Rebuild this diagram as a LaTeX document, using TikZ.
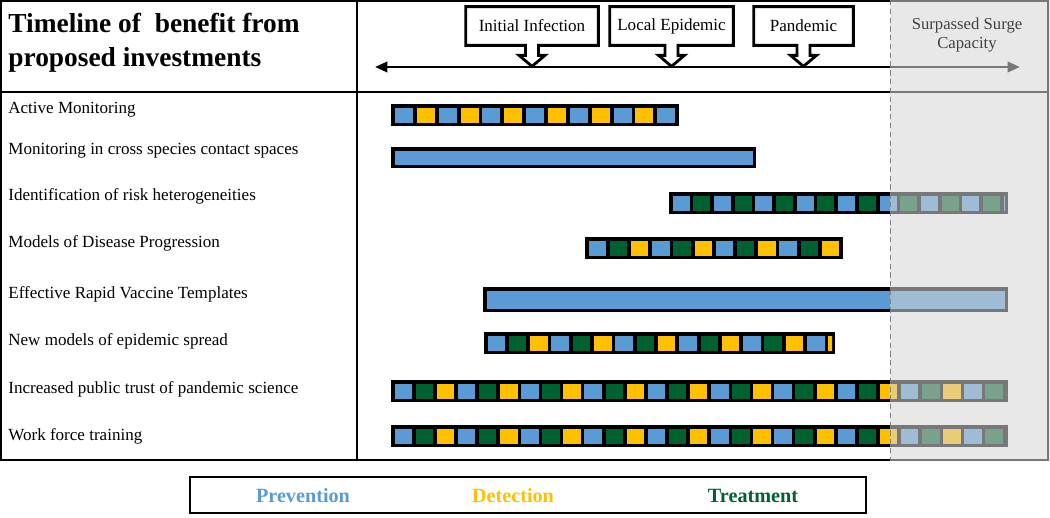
\documentclass[tikz,border=0pt]{standalone}
\usepackage{fontspec}
\setmainfont{Liberation Serif}
\usetikzlibrary{arrows.meta,calc}
\usepackage{xcolor}
\definecolor{prevblue}{HTML}{5B9BD5}
\definecolor{detyellow}{HTML}{FFC000}
\definecolor{treatgreen}{HTML}{006130}
\definecolor{surgegray}{RGB}{214,214,214}

\begin{document}
\begin{tikzpicture}[x=0.02cm, y=-0.02cm,
  tableline/.style={line width=1.1pt},
  heading/.style={anchor=west, align=left, inner sep=0pt,
                  font=\fontsize{15.6}{19.5}\selectfont\bfseries},
  rowlbl/.style={anchor=base west, inner sep=0pt, font=\fontsize{9.7}{11}\selectfont},
  phase/.style={minimum height=0.76cm, inner sep=0pt, font=\fontsize{9.7}{11}\selectfont},
  calloutline/.style={line width=1.6pt, line join=miter},
  timeline/.style={line width=1.6pt,
                   {Triangle[length=7pt,width=5.8pt]}-{Triangle[length=7pt,width=5.8pt]}},
  barbg/.style={fill=black},
  surge/.style={fill=surgegray, fill opacity=0.56},
  legtext/.style={font=\fontsize{11.5}{13}\selectfont\bfseries},
]
  \useasboundingbox (0,0) rectangle (1050,517);

  % table
  \draw[tableline] (1,1) rectangle (1048,460);
  \draw[tableline] (357,1) -- (357,460);
  \draw[tableline] (1,92) -- (1048,92);

  \node[heading] (head) at (8,43) {Timeline of~ benefit from\\proposed investments};

  \node[rowlbl] (lblA) at (8,113) {Active Monitoring};
  \node[rowlbl] (lblB) at (8,154) {Monitoring in cross species contact spaces};
  \node[rowlbl] (lblC) at (8,200) {Identification of risk heterogeneities};
  \node[rowlbl] (lblD) at (8,247) {Models of Disease Progression};
  \node[rowlbl] (lblE) at (8,298) {Effective Rapid Vaccine Templates};
  \node[rowlbl] (lblF) at (8,345) {New models of epidemic spread};
  \node[rowlbl] (lblG) at (8,393) {Increased public trust of pandemic science};
  \node[rowlbl] (lblH) at (8,440) {Work force training};

  % timeline with phase callouts
  \coordinate (tl) at (375,67);
  \coordinate (tr) at (1020,67);
  \draw[timeline] (tl) -- (tr);

  \node[phase, minimum width=2.64cm] (inf) at (532,26) {Initial Infection};
  \node[phase, minimum width=2.46cm] (loc) at (671.5,26) {Local Epidemic};
  \node[phase, minimum width=1.98cm] (pan) at (803.5,26) {Pandemic};

  \foreach \n in {inf,loc,pan}
    \draw[calloutline] (\n.north west) -- (\n.north east) -- (\n.south east)
      -- ($(\n.south)+(6.5,0)$) -- ++(0,10) -- ++(6.5,0) -- ($(\n.south)+(0,21)$)
      -- ++(-13,-11) -- ++(6.5,0) -- ++(0,-10) -- (\n.south west) -- cycle;

  % Active Monitoring
  \fill[barbg] (391,104) rectangle (679,126);
  \begin{scope}
    \clip (394,107) rectangle (676,123);
    \foreach \i in {0,...,6} {
      \fill[prevblue] ({395+2*\i*21.85},107.5) rectangle ++(18,15);
      \fill[detyellow] ({395+(2*\i+1)*21.85},107.5) rectangle ++(18,15);
    }
  \end{scope}

  % Monitoring in cross species contact spaces
  \fill[barbg] (391,147) rectangle (756,168);
  \fill[prevblue] (394.5,150.5) rectangle (752.5,164.5);

  % Identification of risk heterogeneities
  \fill[barbg] (669,192) rectangle (1008,214);
  \begin{scope}
    \clip (672,195) rectangle (1005,211);
    \foreach \i in {0,...,8} {
      \fill[prevblue] ({672.5+2*\i*20.7},195.5) rectangle ++(17,15);
      \fill[treatgreen] ({672.5+(2*\i+1)*20.7},195.5) rectangle ++(17,15);
    }
  \end{scope}

  % Models of Disease Progression
  \fill[barbg] (585,237) rectangle (843,259);
  \begin{scope}
    \clip (588,240) rectangle (840,256);
    \foreach \i in {0,...,3} {
      \fill[prevblue] ({588.5+3*\i*21.2},240.5) rectangle ++(17.5,15);
      \fill[treatgreen] ({588.5+(3*\i+1)*21.2},240.5) rectangle ++(17.5,15);
      \fill[detyellow] ({588.5+(3*\i+2)*21.2},240.5) rectangle ++(17.5,15);
    }
  \end{scope}

  % Effective Rapid Vaccine Templates
  \fill[barbg] (483,287) rectangle (1008,312);
  \fill[prevblue] (486.5,290.5) rectangle (1004.5,308.5);

  % New models of epidemic spread
  \fill[barbg] (484,332) rectangle (835,354);
  \begin{scope}
    \clip (487,335) rectangle (832,351);
    \foreach \i in {0,...,4} {
      \fill[prevblue] ({487.5+3*\i*21.3},335.5) rectangle ++(17.5,15);
      \fill[treatgreen] ({487.5+(3*\i+1)*21.3},335.5) rectangle ++(17.5,15);
      \fill[detyellow] ({487.5+(3*\i+2)*21.3},335.5) rectangle ++(17.5,15);
    }
    \fill[prevblue] ({487.5+15*21.3},335.5) rectangle ++(17.5,15);
    \fill[detyellow] ({487.5+16*21.3},335.5) rectangle ++(17.5,15);
  \end{scope}

  % Increased public trust / Work force training
  \foreach \yb in {380,425} {
    \fill[barbg] (391,\yb) rectangle (1008,\yb+22);
    \begin{scope}
      \clip (394,\yb+3) rectangle (1005,\yb+19);
      \foreach \i in {0,...,9} {
        \fill[prevblue] ({394.5+3*\i*21.1},\yb+3.5) rectangle ++(17.5,15);
        \fill[treatgreen] ({394.5+(3*\i+1)*21.1},\yb+3.5) rectangle ++(17.5,15);
        \fill[detyellow] ({394.5+(3*\i+2)*21.1},\yb+3.5) rectangle ++(17.5,15);
      }
    \end{scope}
  }

  % surge capacity shading
  \fill[surge] (890,0) rectangle (1050,461);
  \draw[gray, densely dashed, line width=0.4pt] (890,0) -- (890,461);
  \node[align=center, text=black!75, font=\fontsize{9.5}{11}\selectfont] (surgelbl)
    at (967,35) {Surpassed Surge\\Capacity};

  % legend
  \node[draw, line width=1.5pt, minimum width=13.52cm, minimum height=0.72cm] (legend) at (528,495) {};
  \node[legtext, text=prevblue] (prev) at (303,496) {Prevention};
  \node[legtext, text=detyellow] (det) at (513,496) {Detection};
  \node[legtext, text=treatgreen] (treat) at (753,496) {Treatment};
\end{tikzpicture}
\end{document}
